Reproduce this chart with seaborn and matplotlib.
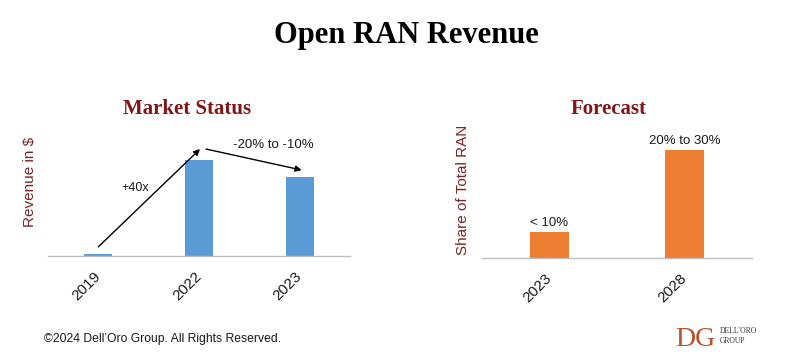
import matplotlib
matplotlib.use("Agg")
import matplotlib.pyplot as plt
import seaborn as sns
import pandas as pd

# data
status_years = ["2019", "2022", "2023"]
status_revenue = [2.5, 100, 82]          # relative revenue (2022 = 100)
forecast_years = ["2023", "2028"]
forecast_share = [6, 25]                 # share of total RAN, %
forecast_labels = ["< 10%", "20% to 30%"]
growth_label = "+40x"
decline_label = "-20% to -10%"

sns.set_style("white")
plt.rcParams["font.family"] = ["Liberation Sans", "DejaVu Sans"]

title_red = "#7F1719"
label_red = "#7A2424"
spine_grey = "#BFBFBF"

fig = plt.figure(figsize=(8, 3.57), dpi=100)
ax1 = fig.add_axes([0.06, 0.283, 0.3775, 0.325])
ax2 = fig.add_axes([0.6025, 0.2773, 0.3375, 0.3305])

df1 = pd.DataFrame({"year": status_years, "rev": status_revenue})
df2 = pd.DataFrame({"year": forecast_years, "share": forecast_share})

sns.barplot(ax=ax1, data=df1, x="year", y="rev", color="#5B9BD5",
            width=0.28, errorbar=None, saturation=1, linewidth=0)
sns.barplot(ax=ax2, data=df2, x="year", y="share", color="#ED7D31",
            width=0.29, errorbar=None, saturation=1, linewidth=0)

ax1.set_xlim(-0.5, len(status_years) - 0.5)
ax1.set_ylim(0, 121)
ax2.set_xlim(-0.5, len(forecast_years) - 0.5)
ax2.set_ylim(0, 27.3)

for ax, n in ((ax1, len(status_years)), (ax2, len(forecast_years))):
    for s in ("top", "right", "left"):
        ax.spines[s].set_visible(False)
    ax.spines["bottom"].set_color(spine_grey)
    ax.spines["bottom"].set_linewidth(1)
    ax.set_yticks([])
    ax.set_xlabel("")
    ax.set_ylabel("")
    ax.set_xticks([i - 0.5 for i in range(n + 1)], minor=True)
    ax.tick_params(axis="x", which="minor", length=6, width=1, color=spine_grey)
    ax.tick_params(axis="x", which="major", length=0, pad=13, labelsize=11,
                   labelcolor="#1a1a1a")
    for lab in ax.get_xticklabels():
        lab.set_rotation(45)
        lab.set_ha("right")
        lab.set_va("center")
        lab.set_rotation_mode("anchor")

# arrows on the market status chart
arrow_kw = dict(arrowstyle="-|>", color="black", lw=1, mutation_scale=9,
                shrinkA=0, shrinkB=0)
ax1.annotate("", xy=(1.01, status_revenue[1] + 11.5),
             xytext=(0.0, status_revenue[0] + 7), arrowprops=arrow_kw)
ax1.annotate("", xy=(2.02, status_revenue[2] + 7.6),
             xytext=(1.07, status_revenue[1] + 11.5), arrowprops=arrow_kw)
ax1.text(0.364, 70.8, growth_label, fontsize=9, ha="center", va="center",
         color="#1a1a1a")
ax1.text(1.735, 115.6, decline_label, fontsize=9.5, ha="center", va="center",
         color="#1a1a1a")

ax2.bar_label(ax2.containers[0], labels=forecast_labels, padding=2,
              fontsize=9.5, color="#1a1a1a")

# titles and axis labels
fig.text(0.5075, 0.8796, "Open RAN Revenue", fontsize=22, fontweight="bold",
         family="Liberation Serif", ha="center", va="baseline", color="black")
fig.text(187 / 800, 0.681, "Market Status", fontsize=15, fontweight="bold",
         family="Liberation Serif", ha="center", va="baseline", color=title_red)
fig.text(609 / 800, 0.681, "Forecast", fontsize=15, fontweight="bold",
         family="Liberation Serif", ha="center", va="baseline", color=title_red)
fig.text(0.037, 0.49, "Revenue in $", rotation=90, fontsize=11,
         ha="center", va="center", color=label_red)
fig.text(0.579, 0.468, "Share of Total RAN", rotation=90, fontsize=11,
         ha="center", va="center", color=label_red)

# footer
fig.text(0.055, 0.042, "\u00a92024 Dell\u2019Oro Group. All Rights Reserved.",
         fontsize=8.7, ha="left", va="baseline", color="#1a1a1a")
fig.text(675 / 800, 0.03, "DG", fontsize=20, family="Liberation Serif",
         color="#B5532C", ha="left", va="baseline")
fig.text(720 / 800, (357 - 333) / 357, "DELL\u2019ORO", fontsize=5.5,
         family="Liberation Serif", color="#333333", ha="left", va="baseline")
fig.text(720 / 800, (357 - 343) / 357, "GROUP", fontsize=5.5,
         family="Liberation Serif", color="#333333", ha="left", va="baseline")

fig.savefig("out.png", dpi=100)
